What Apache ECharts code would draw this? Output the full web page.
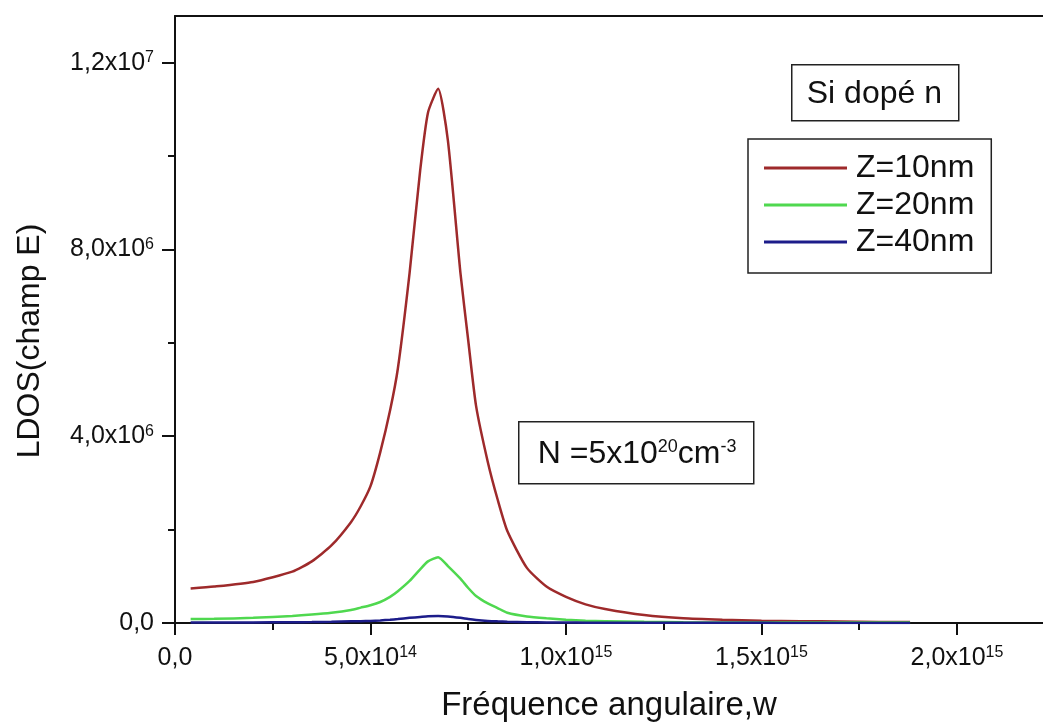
<!DOCTYPE html>
<html><head><meta charset="utf-8">
<script src="https://cdn.jsdelivr.net/npm/echarts@6/dist/echarts.min.js"></script>
<style>html,body{margin:0;padding:0;background:#fff}#c{width:1043px;height:724px}</style>
</head><body><div id="c"></div>
<script>
// angular frequency, units of 1e15
const freq = [0.04, 0.1, 0.2, 0.3, 0.35, 0.4, 0.45, 0.475, 0.5, 0.525, 0.55, 0.57, 0.6, 0.627, 0.647, 0.673, 0.698, 0.73, 0.75, 0.77, 0.8, 0.825, 0.85, 0.9, 0.95, 1.0, 1.05, 1.1, 1.2, 1.3, 1.4, 1.5, 1.6, 1.7, 1.8, 1.88];
// LDOS, units of 1e6
const ldosZ10 = [0.74, 0.78, 0.88, 1.10, 1.32, 1.66, 2.16, 2.50, 2.93, 3.66, 4.55, 5.45, 7.5, 9.69, 10.93, 11.44, 10.33, 7.5, 6.05, 4.65, 3.45, 2.65, 1.97, 1.18, 0.78, 0.56, 0.40, 0.30, 0.17, 0.10, 0.07, 0.05, 0.04, 0.03, 0.02, 0.02];
const ldosZ20 = [0.085, 0.09, 0.11, 0.15, 0.18, 0.22, 0.28, 0.33, 0.38, 0.45, 0.56, 0.68, 0.9, 1.15, 1.32, 1.41, 1.22, 0.95, 0.75, 0.58, 0.42, 0.32, 0.22, 0.14, 0.10, 0.07, 0.05, 0.04, 0.025, 0.015, 0.01, 0.01, 0.01, 0.01, 0.01, 0.01];
const ldosZ40 = [0.01, 0.01, 0.012, 0.017, 0.02, 0.025, 0.035, 0.04, 0.045, 0.055, 0.07, 0.085, 0.11, 0.13, 0.145, 0.15, 0.14, 0.11, 0.085, 0.065, 0.045, 0.035, 0.028, 0.018, 0.013, 0.01, 0.008, 0.007, 0.005, 0.004, 0.003, 0.003, 0.002, 0.002, 0.002, 0.002];
const seriesNames = ['Z=10nm', 'Z=20nm', 'Z=40nm'];
const seriesColors = ['#9e2a2b', '#4fd84f', '#1c1c8a'];

const xMajorTicks = [0, 5e14, 1e15, 1.5e15, 2e15];
const xMinorTicks = [2.5e14, 7.5e14, 1.25e15, 1.75e15];
const xTickMant = ['0,0', '5,0x10', '1,0x10', '1,5x10', '2,0x10'];
const xTickExp = ['', '14', '15', '15', '15'];
const yMajorTicks = [0, 4e6, 8e6, 1.2e7];
const yMinorTicks = [2e6, 6e6, 1e7];
const yTickMant = ['0,0', '4,0x10', '8,0x10', '1,2x10'];
const yTickExp = ['', '6', '6', '7'];

const FONT = '"Liberation Sans", Arial, sans-serif';
const INK = '#111';

function fmt(ticks, mant, exp) {
  return function (v) {
    const i = ticks.findIndex(t => Math.abs(t - v) <= Math.abs(t) * 1e-6 + 1e-9);
    if (i < 0) return '';
    return exp[i] ? '{b|' + mant[i] + '}{s|' + exp[i] + '}' : '{b|' + mant[i] + '}';
  };
}
const richTick = {
  b: { fontSize: 25, fontFamily: FONT, color: INK, lineHeight: 26 },
  s: { fontSize: 16, fontFamily: FONT, color: INK, lineHeight: 16, verticalAlign: 'top' }
};

const mk = (ys) => freq.map((f, i) => [f * 1e15, ys[i] * 1e6]);
const seriesData = [mk(ldosZ10), mk(ldosZ20), mk(ldosZ40)];

const xMax = 2.22e15, yMax = 1.3e7;
const chart = echarts.init(document.getElementById('c'), null, { renderer: 'canvas' });
chart.setOption({
  animation: false,
  backgroundColor: '#fff',
  grid: { left: 175, right: 0, top: 16, bottom: 101, containLabel: false, outerBoundsMode: 'none' },
  xAxis: [
    {
      type: 'value', min: 0, max: xMax, position: 'bottom',
      name: 'Fréquence angulaire,w', nameLocation: 'middle', nameGap: 66,
      nameTextStyle: { fontSize: 33, fontFamily: FONT, color: INK },
      axisLine: { show: true, onZero: false, lineStyle: { color: INK, width: 2 } },
      axisTick: { show: true, inside: false, length: 12, customValues: xMajorTicks, lineStyle: { color: INK, width: 2 } },
      axisLabel: { show: true, margin: 22, customValues: xMajorTicks, formatter: fmt(xMajorTicks, xTickMant, xTickExp), rich: richTick },
      splitLine: { show: false }
    },
    {
      type: 'value', min: 0, max: xMax, position: 'bottom',
      axisLine: { show: false },
      axisTick: { show: true, inside: false, length: 7, customValues: xMinorTicks, lineStyle: { color: INK, width: 2 } },
      axisLabel: { show: false }, splitLine: { show: false }
    },
    {
      type: 'value', min: 0, max: xMax, position: 'top',
      axisLine: { show: true, onZero: false, lineStyle: { color: INK, width: 2 } },
      axisTick: { show: false }, axisLabel: { show: false }, splitLine: { show: false }
    }
  ],
  yAxis: [
    {
      type: 'value', min: 0, max: yMax, position: 'left',
      axisLine: { show: true, onZero: false, lineStyle: { color: INK, width: 2 } },
      axisTick: { show: true, inside: false, length: 13, customValues: yMajorTicks, lineStyle: { color: INK, width: 2 } },
      axisLabel: { show: true, margin: 21, customValues: yMajorTicks, formatter: fmt(yMajorTicks, yTickMant, yTickExp), rich: richTick },
      splitLine: { show: false }
    },
    {
      type: 'value', min: 0, max: yMax, position: 'left',
      axisLine: { show: false },
      axisTick: { show: true, inside: false, length: 7, customValues: yMinorTicks, lineStyle: { color: INK, width: 2 } },
      axisLabel: { show: false }, splitLine: { show: false }
    }
  ],
  legend: {
    orient: 'vertical', left: 748, top: 139,
    itemWidth: 83, itemHeight: 3, itemGap: 5,
    padding: [13, 17, 15, 16],
    icon: 'rect',
    borderColor: '#222', borderWidth: 1.5, backgroundColor: '#fff',
    textStyle: { fontSize: 32, fontFamily: FONT, color: INK, lineHeight: 32, padding: [0, 0, 0, 4] },
    data: seriesNames
  },
  series: seriesNames.map((n, i) => ({
    name: n, type: 'line', xAxisIndex: 0, yAxisIndex: 0,
    data: seriesData[i], symbol: 'none', smooth: 0.2,
    color: seriesColors[i],
    lineStyle: { color: seriesColors[i], width: 2.5 },
    z: 2 + i
  })),
  graphic: [
    {
      type: 'text', x: 30, y: 341, rotation: Math.PI / 2,
      style: { text: 'LDOS(champ E)', fontSize: 32, fontFamily: FONT, fill: INK, align: 'center', verticalAlign: 'middle' }
    },
    {
      type: 'group', left: 791, top: 64,
      children: [
        { type: 'rect', shape: { x: 0, y: 0, width: 167, height: 56 }, style: { fill: '#fff', stroke: '#222', lineWidth: 1.5 } },
        { type: 'text', x: 15, y: 29, style: { text: 'Si dopé n', fontSize: 32, fontFamily: FONT, fill: INK, verticalAlign: 'middle' } }
      ]
    },
    {
      type: 'group', left: 518, top: 421,
      children: [
        { type: 'rect', shape: { x: 0, y: 0, width: 235, height: 62 }, style: { fill: '#fff', stroke: '#222', lineWidth: 1.5 } },
        {
          type: 'text', x: 19, y: 32,
          style: {
            text: '{a|N =5x10}{s|20}{a|cm}{s|-3}', verticalAlign: 'middle', fill: INK,
            rich: {
              a: { fontSize: 32, fontFamily: FONT, fill: INK, lineHeight: 32 },
              s: { fontSize: 18, fontFamily: FONT, fill: INK, lineHeight: 18, verticalAlign: 'top' }
            }
          }
        }
      ]
    }
  ]
});
</script></body></html>
